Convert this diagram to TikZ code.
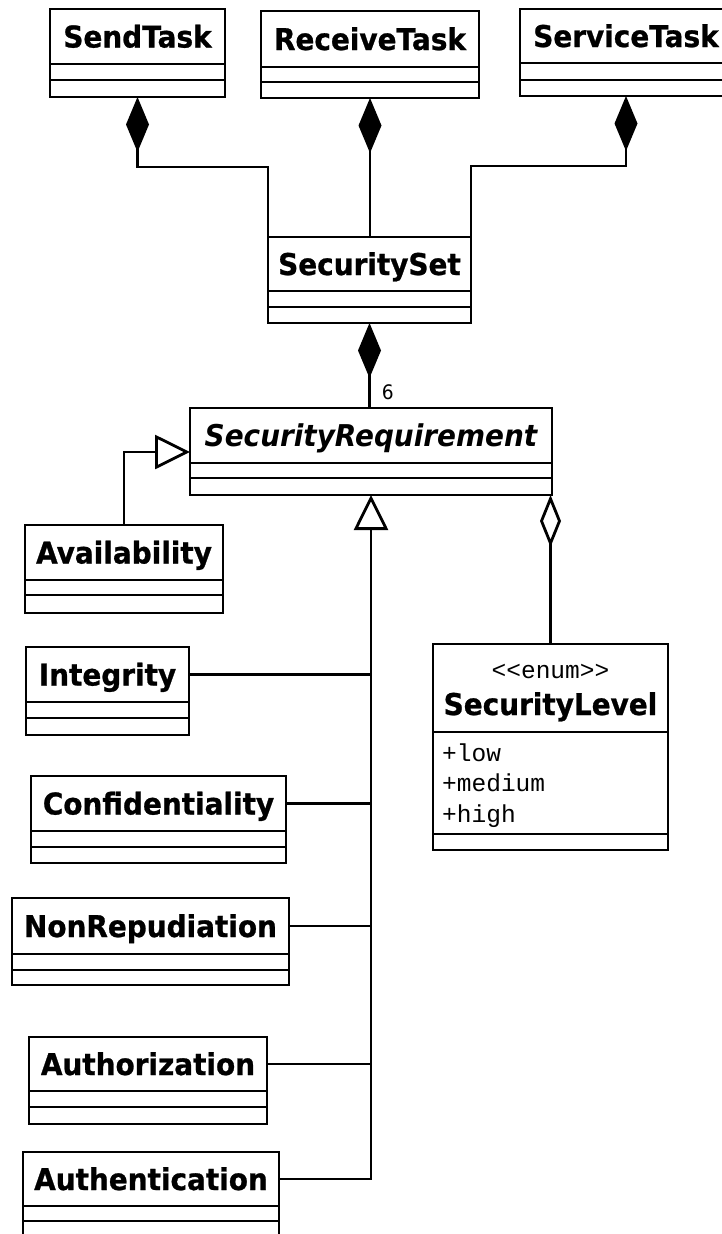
\documentclass[tikz,border=0pt]{standalone}
\usepackage{fontspec}
\setmainfont{DejaVu Sans}[FakeStretch=0.93, BoldFeatures={FakeBold=0.8}]
\newfontfamily\attrfont{Liberation Mono}
\usetikzlibrary{arrows.meta}

\tikzset{
  lw/.style={line width=2.8pt},
  classbox/.style={draw, lw, inner sep=0pt, outer sep=0pt, anchor=north west},
  titlefont/.style={font=\fontsize{30}{36}\selectfont\bfseries},
  classname/.style={titlefont, inner sep=0pt, outer sep=0pt, anchor=north west,
    text height=22pt, text depth=0pt},
  divider/.style={lw},
  link/.style={lw},
  compo/.style={link, {Diamond[length=55pt,width=23pt]}-},
  aggr/.style={link, {Diamond[open,length=52pt,width=21pt]}-},
  gen/.style={link, -{Triangle[open,length=35pt,width=34pt]}},
  attr/.style={inner sep=0pt, anchor=base west, font=\attrfont\fontsize{24.5}{28}\selectfont},
  mult/.style={inner sep=0pt, font=\fontsize{20}{22}\selectfont},
}

% class box: name, left, top, right, first divider, second divider, bottom, title
\newcommand{\umlclass}[8]{%
  \pgfmathsetmacro\ucw{#4-#2}%
  \pgfmathsetmacro\uch{#7-#3}%
  \pgfmathsetmacro\ucn{#5-#3}%
  \node[classbox, minimum width=\ucw pt, minimum height=\uch pt] (#1) at (#2,-#3) {};
  \node[classname, minimum width=\ucw pt, minimum height=\ucn pt] (#1-n) at (#2,-#3) {#8};
  \draw[divider] (#2,-#5) -- (#4,-#5) (#2,-#6) -- (#4,-#6);
}

\begin{document}
\begin{tikzpicture}[x=1pt, y=1pt]
  \fill[white] (0,0) rectangle (722,-1234);
  \useasboundingbox (0,0) rectangle (722,-1234);
  \clip (0,0) rectangle (722,-1234);

  % task classes
  \umlclass{send}{50}{9}{225}{64}{80}{97}{SendTask}
  \umlclass{receive}{261}{11}{479}{67}{82}{98}{ReceiveTask}
  \umlclass{service}{520}{9}{732}{63}{80}{96}{ServiceTask}

  % security set and requirement
  \umlclass{secset}{268}{237}{471}{291}{307}{323}{SecuritySet}
  \umlclass{secreq}{190}{408}{552}{463}{478}{495}{\itshape SecurityRequirement}

  % requirement kinds
  \umlclass{avail}{25}{525}{223}{580}{595}{613}{Availability}
  \umlclass{integ}{26}{647}{189}{702}{718}{735}{Integrity}
  \umlclass{confid}{31}{776}{286}{831}{847}{863}{Confidentiality}
  \umlclass{nonrep}{12}{898}{289}{954}{970}{985}{NonRepudiation}
  \umlclass{authz}{29}{1037}{267}{1091}{1107}{1124}{Authorization}
  \umlclass{authn}{23}{1152}{279}{1206}{1221}{1250}{Authentication}

  % enumeration of levels
  \node[classbox, minimum width=235pt, minimum height=206pt] (seclev) at (433,-644) {};
  \draw[divider] (433,-732) -- (668,-732) (433,-834) -- (668,-834);
  \node[attr, anchor=base] (seclev-st) at (550.5,-678) {<\kern0pt<enum>\kern0pt>};
  \node[titlefont, inner sep=0pt, anchor=base] (seclev-n) at (550.5,-715) {SecurityLevel};
  \node[attr] (lv-low) at (442,-761) {+low};
  \node[attr] (lv-med) at (442,-791) {+medium};
  \node[attr] (lv-high) at (442,-822) {+high};

  % compositions into the security set
  \draw[compo] (send.south) -- ++(0,-70) -| (secset.north west);
  \draw[compo] (receive.south) -- (receive.south |- secset.north);
  \draw[compo] (service.south) -- ++(0,-70) -| (secset.north east);

  % security set holds six requirements
  \draw[compo] (secset.south) -- (secset.south |- secreq.north)
    node[mult, pos=1, anchor=south west, xshift=11pt, yshift=7pt] (six) {6};

  % generalisations
  \coordinate (availbend) at (124,-452);
  \draw[gen] (avail.north) |- (availbend -| secreq.west);
  \draw[gen] (authn-n.east) -| (secreq.south);
  \draw[link] (integ-n.east) -- (integ-n.east -| secreq.south);
  \draw[link] (confid-n.east) -- (confid-n.east -| secreq.south);
  \draw[link] (nonrep-n.east) -- (nonrep-n.east -| secreq.south);
  \draw[link] (authz-n.east) -- (authz-n.east -| secreq.south);

  % aggregation of the level
  \draw[aggr] (seclev.north |- secreq.south) -- (seclev.north);
\end{tikzpicture}
\end{document}
